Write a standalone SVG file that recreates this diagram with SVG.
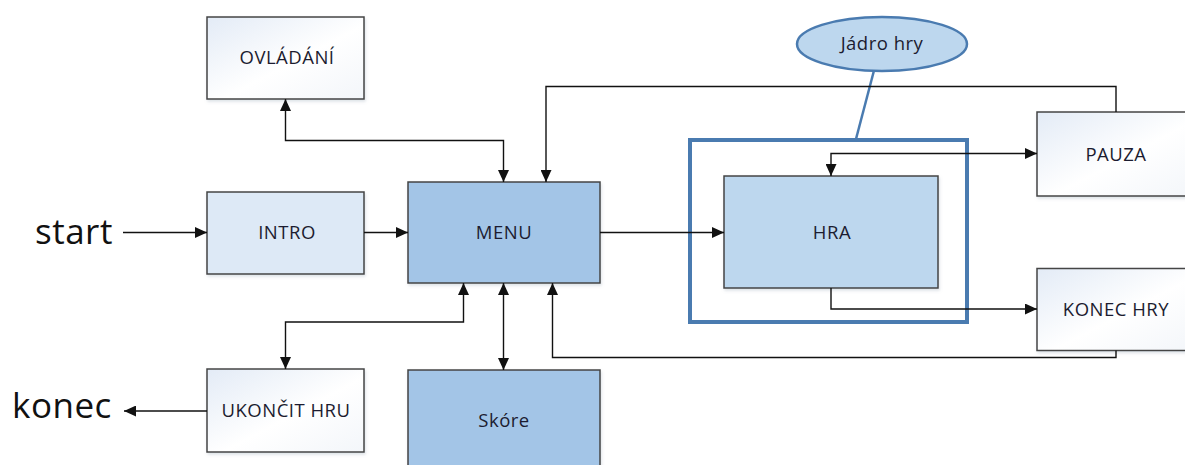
<svg xmlns="http://www.w3.org/2000/svg" width="1185" height="465" viewBox="0 0 1185 465">
  <style>
    .box { stroke: #444; stroke-width: 1.5; filter: url(#shadow); }
    .light { fill: url(#paleGrad); }
    .intro { fill: #dde9f6; }
    .mid { fill: #a3c5e7; }
    .hra { fill: #bdd7ee; }
    .lbl { font-family: "Open Sans", "Liberation Sans", sans-serif; font-size: 18.5px; letter-spacing: 0.5px; fill: #1c1c30; text-anchor: middle; }
    .big { font-family: "Open Sans", "Liberation Sans", sans-serif; font-size: 35px; letter-spacing: 0.5px; fill: #111; }
    .conn { fill: none; stroke: #111; stroke-width: 1.4; }
    .blue { fill: none; stroke: #4a7bb0; }
  </style>
  <defs>
    <linearGradient id="paleGrad" x1="0" y1="0" x2="1" y2="1">
      <stop offset="0" stop-color="#e3ebf6"/>
      <stop offset="0.55" stop-color="#ffffff"/>
      <stop offset="1" stop-color="#f3f6fa"/>
    </linearGradient>
    <filter id="shadow" x="-5%" y="-5%" width="115%" height="120%">
      <feDropShadow dx="1" dy="2" stdDeviation="1.5" flood-color="#7a8ca0" flood-opacity="0.25"/>
    </filter>
    <marker id="arr" viewBox="0 0 12 11" refX="12" refY="5.5" markerWidth="12" markerHeight="11" markerUnits="userSpaceOnUse" orient="auto-start-reverse">
      <path d="M0,0 L12,5.5 L0,11 Z" fill="#111"/>
    </marker>
  </defs>

  <!-- free-standing labels -->
  <text class="big" x="35" y="244">start</text>
  <text class="big" x="12" y="418">konec</text>

  <!-- game core frame and its callout -->
  <g id="jadro">
    <rect x="690" y="140" width="277" height="182" class="blue" stroke-width="4"/>
    <line x1="874" y1="70.5" x2="856" y2="139" class="blue" stroke-width="2.5"/>
    <ellipse cx="882" cy="44" rx="85" ry="27" fill="#bdd7ee" stroke="#4a7bb0" stroke-width="2.5"/>
    <text class="lbl" x="882" y="50">Jádro hry</text>
  </g>

  <g id="ovladani">
    <rect class="box light" x="207" y="17" width="157" height="82"/>
    <text class="lbl" x="287" y="64">OVLÁDÁNÍ</text>
  </g>
  <g id="intro">
    <rect class="box intro" x="207" y="192" width="157" height="82"/>
    <text class="lbl" x="287" y="239">INTRO</text>
  </g>
  <g id="ukoncit">
    <rect class="box light" x="207" y="369" width="157" height="83"/>
    <text class="lbl" x="286" y="417">UKONČIT HRU</text>
  </g>
  <g id="menu">
    <rect class="box mid" x="408" y="182" width="192" height="101"/>
    <text class="lbl" x="504" y="239">MENU</text>
  </g>
  <g id="skore">
    <rect class="box mid" x="408" y="370" width="192" height="102"/>
    <text class="lbl" x="504" y="427">Skóre</text>
  </g>
  <g id="hra">
    <rect class="box hra" x="724" y="176" width="214" height="112"/>
    <text class="lbl" x="832" y="239">HRA</text>
  </g>
  <g id="pauza">
    <rect class="box light" x="1037" y="112" width="158" height="84"/>
    <text class="lbl" x="1116" y="161">PAUZA</text>
  </g>
  <g id="konec-hry">
    <rect class="box light" x="1037" y="268.5" width="158" height="82"/>
    <text class="lbl" x="1116" y="316">KONEC HRY</text>
  </g>

  <g id="connectors">
    <path class="conn" d="M123 232.5 H207" marker-end="url(#arr)"/>
    <path class="conn" d="M364 232.5 H408" marker-end="url(#arr)"/>
    <path class="conn" d="M600 232.5 H724" marker-end="url(#arr)"/>
    <path class="conn" d="M503.5 182 V140.5 H285.5 V99" marker-start="url(#arr)" marker-end="url(#arr)"/>
    <path class="conn" d="M1116 112 V86.5 H546 V182" marker-end="url(#arr)"/>
    <path class="conn" d="M831 176 V153.5 H1037" marker-start="url(#arr)" marker-end="url(#arr)"/>
    <path class="conn" d="M831 288 V309 H1037" marker-end="url(#arr)"/>
    <path class="conn" d="M1116 350.5 V357.5 H552.5 V283" marker-end="url(#arr)"/>
    <path class="conn" d="M463.5 283 V322 H285.5 V369" marker-start="url(#arr)" marker-end="url(#arr)"/>
    <path class="conn" d="M503.5 283 V370" marker-start="url(#arr)" marker-end="url(#arr)"/>
    <path class="conn" d="M207 411 H124" marker-end="url(#arr)"/>
  </g>
</svg>
